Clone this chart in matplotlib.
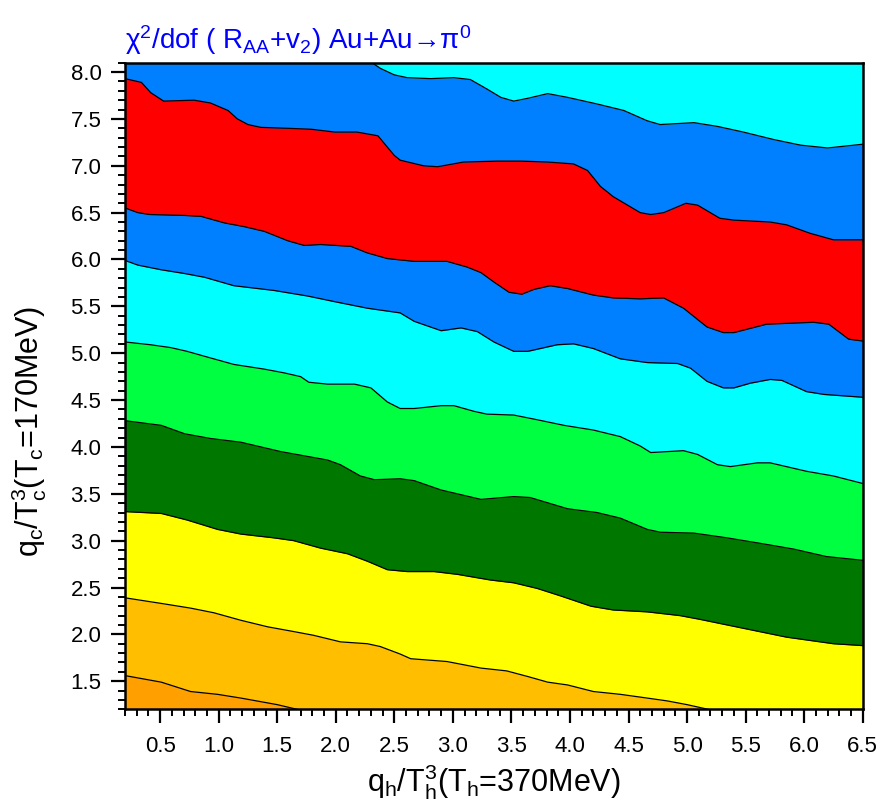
import numpy as np
import matplotlib.pyplot as plt
from matplotlib.ticker import MultipleLocator, FormatStrFormatter

plt.rcParams['font.family'] = ['Liberation Sans', 'DejaVu Sans']
plt.rcParams['mathtext.fontset'] = 'custom'
plt.rcParams['mathtext.rm'] = 'Liberation Sans'
plt.rcParams['mathtext.it'] = 'Liberation Sans'
plt.rcParams['mathtext.sf'] = 'Liberation Sans'

# chi2/dof contour boundaries, q_h/T_h^3 (x) vs q_c/T_c^3 (y), listed bottom to top
# dark orange | amber
e1_x = [0.20, 0.51, 0.76, 0.99, 1.19, 1.50, 1.67]
e1_y = [1.56, 1.49, 1.39, 1.36, 1.32, 1.25, 1.20]
# amber | yellow
e2_x = [0.20, 0.51, 0.76, 0.96, 1.19, 1.42, 1.64, 1.81, 2.04, 2.27, 2.38, 2.55, 2.64,
        2.95, 3.24, 3.46, 3.64, 3.81, 3.98, 4.20, 4.43, 4.66, 4.83, 5.00, 5.18]
e2_y = [2.39, 2.33, 2.28, 2.23, 2.15, 2.08, 2.03, 1.99, 1.92, 1.90, 1.87, 1.79, 1.74,
        1.71, 1.64, 1.61, 1.55, 1.49, 1.46, 1.39, 1.36, 1.32, 1.29, 1.25, 1.20]
# yellow | dark green
e3_x = [0.20, 0.51, 0.73, 0.99, 1.19, 1.47, 1.64, 1.87, 2.10, 2.27, 2.44, 2.61, 2.84,
        3.04, 3.32, 3.52, 3.72, 3.92, 4.18, 4.37, 4.66, 4.94, 5.11, 5.46, 5.85, 6.25, 6.50]
e3_y = [3.31, 3.29, 3.22, 3.12, 3.07, 3.03, 3.00, 2.92, 2.86, 2.78, 2.69, 2.67, 2.67,
        2.64, 2.58, 2.55, 2.49, 2.41, 2.30, 2.26, 2.24, 2.20, 2.16, 2.07, 1.97, 1.90, 1.88]
# dark green | green
e4_x = [0.20, 0.51, 0.71, 0.93, 1.19, 1.53, 1.93, 2.04, 2.21, 2.33, 2.55, 2.67, 2.90,
        3.24, 3.52, 3.66, 3.98, 4.23, 4.43, 4.66, 4.77, 5.06, 5.34, 5.63, 5.91, 6.19, 6.50]
e4_y = [4.28, 4.23, 4.14, 4.09, 4.05, 3.95, 3.86, 3.81, 3.69, 3.65, 3.66, 3.64, 3.54,
        3.44, 3.47, 3.46, 3.34, 3.30, 3.24, 3.12, 3.09, 3.08, 3.03, 2.97, 2.91, 2.83, 2.79]
# green | cyan
e5_x = [0.20, 0.42, 0.59, 0.73, 0.90, 1.13, 1.39, 1.56, 1.70, 1.77, 1.93, 2.16, 2.30,
        2.44, 2.55, 2.67, 2.90, 3.01, 3.18, 3.29, 3.52, 3.72, 3.95, 4.20, 4.43, 4.60,
        4.69, 4.83, 4.97, 5.09, 5.26, 5.37, 5.60, 5.71, 6.02, 6.25, 6.50]
e5_y = [5.12, 5.09, 5.06, 5.02, 4.96, 4.88, 4.83, 4.79, 4.75, 4.69, 4.67, 4.67, 4.63,
        4.48, 4.41, 4.41, 4.44, 4.44, 4.38, 4.35, 4.34, 4.29, 4.23, 4.18, 4.11, 4.01,
        3.94, 3.95, 3.96, 3.92, 3.81, 3.79, 3.83, 3.83, 3.74, 3.69, 3.61]
# cyan | blue
e6_x = [0.20, 0.31, 0.51, 0.71, 0.88, 1.13, 1.47, 1.76, 1.99, 2.27, 2.55, 2.67, 2.90,
        3.07, 3.21, 3.35, 3.52, 3.64, 3.89, 4.03, 4.20, 4.43, 4.66, 4.92, 5.03, 5.17,
        5.31, 5.40, 5.54, 5.71, 5.81, 6.02, 6.17, 6.50]
e6_y = [5.99, 5.94, 5.89, 5.85, 5.81, 5.72, 5.67, 5.61, 5.55, 5.48, 5.43, 5.34, 5.24,
        5.27, 5.23, 5.12, 5.02, 5.02, 5.09, 5.10, 5.05, 4.94, 4.90, 4.89, 4.84, 4.70,
        4.63, 4.63, 4.68, 4.72, 4.71, 4.59, 4.56, 4.53]
# blue | red (lower side of the minimum)
e7_x = [0.20, 0.31, 0.41, 0.71, 0.85, 1.05, 1.22, 1.39, 1.59, 1.73, 1.87, 2.13, 2.27,
        2.44, 2.67, 2.95, 3.12, 3.24, 3.35, 3.48, 3.59, 3.69, 3.83, 3.98, 4.20, 4.37,
        4.60, 4.80, 4.97, 5.17, 5.31, 5.40, 5.68, 6.08, 6.21, 6.38, 6.50]
e7_y = [6.55, 6.50, 6.48, 6.47, 6.46, 6.39, 6.35, 6.30, 6.20, 6.15, 6.16, 6.14, 6.07,
        6.01, 5.98, 5.98, 5.92, 5.86, 5.76, 5.65, 5.63, 5.68, 5.72, 5.69, 5.62, 5.59,
        5.58, 5.59, 5.48, 5.28, 5.22, 5.22, 5.31, 5.33, 5.31, 5.15, 5.13]
# red | blue (upper side of the minimum)
e8_x = [0.20, 0.34, 0.42, 0.53, 0.79, 0.93, 1.08, 1.16, 1.25, 1.36, 1.59, 1.79, 1.99,
        2.18, 2.36, 2.44, 2.50, 2.55, 2.75, 2.87, 3.09, 3.38, 3.58, 3.81, 4.03, 4.15,
        4.26, 4.37, 4.60, 4.69, 4.80, 4.99, 5.09, 5.28, 5.40, 5.71, 5.85, 6.05, 6.25, 6.50]
e8_y = [7.93, 7.89, 7.78, 7.69, 7.70, 7.67, 7.59, 7.50, 7.44, 7.41, 7.40, 7.39, 7.36,
        7.36, 7.32, 7.20, 7.11, 7.06, 7.00, 6.99, 7.04, 7.05, 7.05, 7.04, 7.02, 6.95,
        6.78, 6.67, 6.50, 6.48, 6.50, 6.60, 6.58, 6.44, 6.42, 6.40, 6.37, 6.28, 6.21, 6.21]
# blue | cyan (top)
e9_x = [2.31, 2.38, 2.50, 2.61, 2.81, 3.01, 3.15, 3.29, 3.41, 3.52, 3.64, 3.81, 3.98,
        4.23, 4.46, 4.66, 4.77, 5.06, 5.26, 5.48, 5.74, 5.97, 6.20, 6.50]
e9_y = [8.10, 8.04, 7.97, 7.94, 7.93, 7.94, 7.92, 7.82, 7.73, 7.69, 7.72, 7.77, 7.73,
        7.66, 7.59, 7.48, 7.44, 7.46, 7.42, 7.36, 7.28, 7.22, 7.19, 7.23]

blue = '#0080FF'
cyan = '#00FFFF'
# colour of the band just below each boundary, from the top boundary down
bands = [
    (e8_x, e8_y, '#FF0000'),
    (e7_x, e7_y, blue),
    (e6_x, e6_y, cyan),
    (e5_x, e5_y, '#00FF40'),
    (e4_x, e4_y, '#007800'),
    (e3_x, e3_y, '#FFFF00'),
    (e2_x, e2_y, '#FFBF00'),
    (e1_x, e1_y, '#FFA000'),
]

x_lo, x_hi = 0.2, 6.5
y_lo, y_hi = 1.2, 8.1

fig = plt.figure(figsize=(8.84, 8.09), dpi=100)
ax = fig.add_axes([0.1414, 0.1232, 0.8345, 0.7993])
ax.set_facecolor(blue)

ax.fill_between(e9_x, e9_y, y_hi, color=cyan, lw=0)
for ex, ey, col in bands:
    ax.fill_between(ex, y_lo, ey, color=col, lw=0)

for ex, ey in [(e1_x, e1_y), (e2_x, e2_y), (e3_x, e3_y), (e4_x, e4_y), (e5_x, e5_y),
               (e6_x, e6_y), (e7_x, e7_y), (e8_x, e8_y), (e9_x, e9_y)]:
    ax.plot(ex, ey, color='black', lw=0.9)

ax.set_xlim(x_lo, x_hi)
ax.set_ylim(y_lo, y_hi)

ax.xaxis.set_minor_locator(MultipleLocator(0.1))
ax.yaxis.set_minor_locator(MultipleLocator(0.1))
ax.xaxis.set_major_formatter(FormatStrFormatter('%.1f'))
ax.yaxis.set_major_formatter(FormatStrFormatter('%.1f'))
ax.set_xticks(np.arange(0.5, 6.51, 0.5))
ax.set_yticks(np.arange(1.5, 8.01, 0.5))

ax.tick_params(which='major', direction='out', length=10, width=1.6, labelsize=16, pad=7)
ax.tick_params(axis='x', which='major', pad=9)
ax.tick_params(which='minor', direction='out', length=5, width=1.4)
for s in ax.spines.values():
    s.set_linewidth(1.8)

ax.set_xlabel(r'q$_\mathregular{h}$/T$_\mathregular{h}^\mathregular{3}$(T$_\mathregular{h}$=370MeV)',
              fontsize=22)
ax.set_ylabel(r'q$_\mathregular{c}$/T$_\mathregular{c}^\mathregular{3}$(T$_\mathregular{c}$=170MeV)',
              fontsize=22)
ax.xaxis.set_label_coords(0.5, -0.082)
ax.yaxis.set_label_coords(-0.103, 0.43)
ax.set_title(r'$\mathregular{\chi^2}$/dof ( R$_\mathregular{AA}$+v$_\mathregular{2}$) '
             'Au+Au\u2192' r'$\mathregular{\pi^0}$',
             loc='left', color='#0000FF', fontsize=20, pad=10)

fig.savefig('out.png', dpi=100)
